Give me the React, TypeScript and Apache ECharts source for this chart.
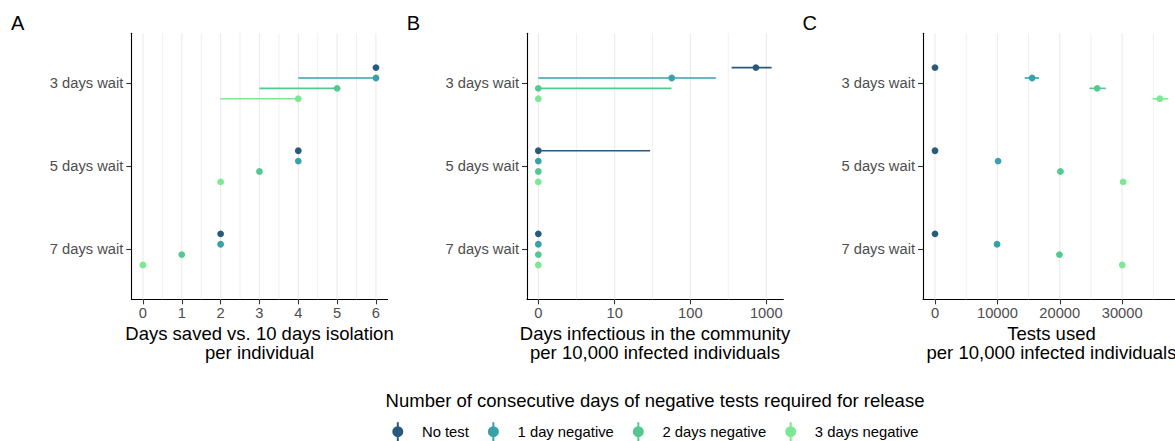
import React, { useEffect, useRef } from "react";
import * as echarts from "echarts";

// ---------- data ----------
const waitCategories = ["3 days wait", "5 days wait", "7 days wait"];
const testGroups = ["No test", "1 day negative", "2 days negative", "3 days negative"];
const groupColors = ["#285A7E", "#38A1A9", "#52C990", "#7DE894"];

type Range = [number, number] | null;

// Panel A: days saved vs. 10 days isolation per individual
const savedTicks = [0, 1, 2, 3, 4, 5, 6];
const savedNoTest = [6, 4, 2];
const savedOneDay = [6, 4, 2];
const savedTwoDays = [5, 3, 1];
const savedThreeDays = [4, 2, 0];
const savedNoTestRange: Range[] = [null, null, null];
const savedOneDayRange: Range[] = [[4, 6], null, null];
const savedTwoDaysRange: Range[] = [[3, 5], null, null];
const savedThreeDaysRange: Range[] = [[2, 4], null, null];

// Panel B: days infectious in the community per 10,000 infected individuals
const infectiousTicks = [0, 10, 100, 1000];
const infectiousNoTest = [730, 0, 0];
const infectiousOneDay = [57, 0, 0];
const infectiousTwoDays = [0, 0, 0];
const infectiousThreeDays = [0, 0, 0];
const infectiousNoTestRange: Range[] = [[350, 1175], [0, 29.6], null];
const infectiousOneDayRange: Range[] = [[0, 217], null, null];
const infectiousTwoDaysRange: Range[] = [[0, 56.5], null, null];
const infectiousThreeDaysRange: Range[] = [null, null, null];

// Panel C: tests used per 10,000 infected individuals
const testsTicks = [0, 10000, 20000, 30000];
const testsNoTest = [0, 0, 0];
const testsOneDay = [15570, 10110, 9950];
const testsTwoDays = [26000, 20110, 19950];
const testsThreeDays = [36050, 30170, 30010];
const testsNoTestRange: Range[] = [null, null, null];
const testsOneDayRange: Range[] = [[14380, 16690], null, null];
const testsTwoDaysRange: Range[] = [[24770, 27390], null, null];
const testsThreeDaysRange: Range[] = [[34880, 37400], null, null];

// ---------- layout / style ----------
const FONT = "'Liberation Sans', Arial, Helvetica, sans-serif";
const dodge = [-0.1875, -0.0625, 0.0625, 0.1875];
const pseudoLog = (v: number) => Math.asinh(v / 2) / Math.LN10;
const identity = (v: number) => v;

const legendIcon =
  "path://M5,0 H7 V19 H5 Z M0.5,9.5 A5.5,5.5 0 1,1 11.5,9.5 A5.5,5.5 0 1,1 0.5,9.5 Z";

const panels = [
  {
    letter: "A",
    values: [savedNoTest, savedOneDay, savedTwoDays, savedThreeDays],
    ranges: [savedNoTestRange, savedOneDayRange, savedTwoDaysRange, savedThreeDaysRange],
    ticks: savedTicks,
    tf: identity,
    min: -0.3,
    max: 6.3,
    width: 256.3,
    title: ["Days saved vs. 10 days isolation", "per individual"],
    titleX: 259.5,
    left: 131.3,
  },
  {
    letter: "B",
    values: [infectiousNoTest, infectiousOneDay, infectiousTwoDays, infectiousThreeDays],
    ranges: [
      infectiousNoTestRange,
      infectiousOneDayRange,
      infectiousTwoDaysRange,
      infectiousThreeDaysRange,
    ],
    ticks: infectiousTicks,
    tf: pseudoLog,
    min: -0.149,
    max: 3.224,
    width: 256.3,
    title: ["Days infectious in the community", "per 10,000 infected individuals"],
    titleX: 655,
    left: 527,
  },
  {
    letter: "C",
    values: [testsNoTest, testsOneDay, testsTwoDays, testsThreeDays],
    ranges: [testsNoTestRange, testsOneDayRange, testsTwoDaysRange, testsThreeDaysRange],
    ticks: testsTicks,
    tf: identity,
    min: -1926,
    max: 38476,
    width: 252,
    title: ["Tests used", "per 10,000 infected individuals"],
    titleX: 1051.5,
    left: 923,
  },
];

const GRID_TOP = 33.3;
const GRID_H = 266;

function buildOption() {
  const grids: any[] = [];
  const xAxes: any[] = [];
  const yAxes: any[] = [];
  const series: any[] = [];
  const graphics: any[] = [];
  const catPos = waitCategories.map((_, i) => i + 1);

  panels.forEach((p, pi) => {
    grids.push({ left: p.left, top: GRID_TOP, width: p.width, height: GRID_H, containLabel: false });

    const tickPos = p.ticks.map((t) => p.tf(t));
    xAxes.push({
      type: "value",
      gridIndex: pi,
      min: p.min,
      max: p.max,
      axisLine: { show: true, onZero: false, lineStyle: { color: "#000", width: 1.1 } },
      axisTick: { show: true, length: 5, lineStyle: { color: "#333", width: 1.1 }, customValues: tickPos },
      axisLabel: {
        customValues: tickPos,
        formatter: (v: number) => {
          const i = tickPos.findIndex((t) => Math.abs(t - v) < 1e-6 * Math.max(1, Math.abs(t)));
          return i >= 0 ? String(p.ticks[i]) : "";
        },
        fontSize: 14.7,
        lineHeight: 15,
        color: "#4d4d4d",
        margin: 6,
        fontFamily: FONT,
      },
      splitLine: { show: false },
    });
    yAxes.push({
      type: "value",
      gridIndex: pi,
      min: 0.4,
      max: 3.6,
      inverse: true,
      axisLine: { show: true, onZero: false, lineStyle: { color: "#000", width: 1.1 } },
      axisTick: { show: true, length: 5, lineStyle: { color: "#333", width: 1.1 }, customValues: catPos },
      axisLabel: {
        customValues: catPos,
        formatter: (v: number) => waitCategories[Math.round(v) - 1] ?? "",
        fontSize: 14.7,
        color: "#4d4d4d",
        margin: 8,
        fontFamily: FONT,
      },
      splitLine: { show: false },
    });

    // grid lines: major at ticks, minor midway (in transformed space)
    const step = tickPos[1] - tickPos[0];
    const ext = [tickPos[0] - step, ...tickPos, tickPos[tickPos.length - 1] + step];
    const gridData: number[][] = [];
    tickPos.forEach((t) => gridData.push([t, 2, 1]));
    for (let i = 0; i < ext.length - 1; i++) {
      const m = (ext[i] + ext[i + 1]) / 2;
      if (m > p.min && m < p.max) gridData.push([m, 2, 0]);
    }
    const lastMajor = ext[ext.length - 1];
    if (lastMajor > p.min && lastMajor < p.max) gridData.push([lastMajor, 2, 1]);

    series.push({
      type: "custom",
      name: "grid" + pi,
      xAxisIndex: pi,
      yAxisIndex: pi,
      silent: true,
      z: 1,
      data: gridData,
      encode: { x: 0, y: 1 },
      renderItem: (params: any, api: any) => {
        const cs = params.coordSys;
        const x = api.coord([api.value(0), 2])[0];
        const major = api.value(2) === 1;
        return {
          type: "line",
          shape: { x1: x, y1: cs.y, x2: x, y2: cs.y + cs.height },
          style: { stroke: "#ebebeb", lineWidth: major ? 1.1 : 0.75 },
        };
      },
    });

    testGroups.forEach((g, gi) => {
      const rangeData = p.ranges[gi]
        .map((r, ci) => (r ? [p.tf(r[0]), p.tf(r[1]), ci + 1 + dodge[gi]] : null))
        .filter((d) => d !== null);
      if (rangeData.length) {
        series.push({
          type: "custom",
          name: g,
          xAxisIndex: pi,
          yAxisIndex: pi,
          silent: true,
          z: 2,
          data: rangeData,
          encode: { x: [0, 1], y: 2 },
          itemStyle: { color: groupColors[gi] },
          renderItem: (_params: any, api: any) => {
            const a = api.coord([api.value(0), api.value(2)]);
            const b = api.coord([api.value(1), api.value(2)]);
            return {
              type: "line",
              shape: { x1: a[0], y1: a[1], x2: b[0], y2: b[1] },
              style: { stroke: groupColors[gi], lineWidth: 1.6 },
            };
          },
        });
      }
      series.push({
        type: "scatter",
        name: g,
        xAxisIndex: pi,
        yAxisIndex: pi,
        z: 3,
        symbol: "circle",
        symbolSize: 6.8,
        itemStyle: { color: groupColors[gi], opacity: 1 },
        data: p.values[gi].map((v, ci) => [p.tf(v), ci + 1 + dodge[gi]]),
      });
    });

    graphics.push({
      type: "text",
      x: 11 + pi * 395.7,
      y: 23.1,
      style: {
        text: p.letter,
        fontSize: 20,
        fontFamily: FONT,
        fill: "#000",
        align: "left",
        verticalAlign: "middle",
      },
    });
    p.title.forEach((line, li) => {
      graphics.push({
        type: "text",
        x: p.titleX,
        y: 333 + li * 19,
        style: {
          text: line,
          fontSize: 18.5,
          fontFamily: FONT,
          fill: "#000",
          align: "center",
          verticalAlign: "middle",
        },
      });
    });
  });

  graphics.push({
    type: "text",
    x: 655,
    y: 400.3,
    style: {
      text: "Number of consecutive days of negative tests required for release",
      fontSize: 18.5,
      fontFamily: FONT,
      fill: "#000",
      align: "center",
      verticalAlign: "middle",
    },
  });

  return {
    animation: false,
    grid: grids,
    xAxis: xAxes,
    yAxis: yAxes,
    series,
    graphic: graphics,
    legend: {
      orient: "horizontal",
      left: 392.3,
      top: 422.2,
      itemWidth: 12,
      itemHeight: 19,
      itemGap: 19,
      selectedMode: false,
      padding: 0,
      textStyle: { fontSize: 14.8, color: "#000", fontFamily: FONT, padding: [0, 0, 0, 13.2] },
      data: testGroups.map((n, i) => ({ name: n, icon: legendIcon, itemStyle: { color: groupColors[i] } })),
    },
  };
}

export default function App() {
  const ref = useRef<HTMLDivElement>(null);
  useEffect(() => {
    if (!ref.current) return;
    const chart = echarts.init(ref.current, undefined, { renderer: "svg" });
    chart.setOption(buildOption() as any);
    return () => chart.dispose();
  }, []);
  return (
    <div
      ref={ref}
      style={{ position: "absolute", left: 0, top: 0, width: 1175, height: 441, overflow: "hidden", background: "#fff" }}
    />
  );
}
